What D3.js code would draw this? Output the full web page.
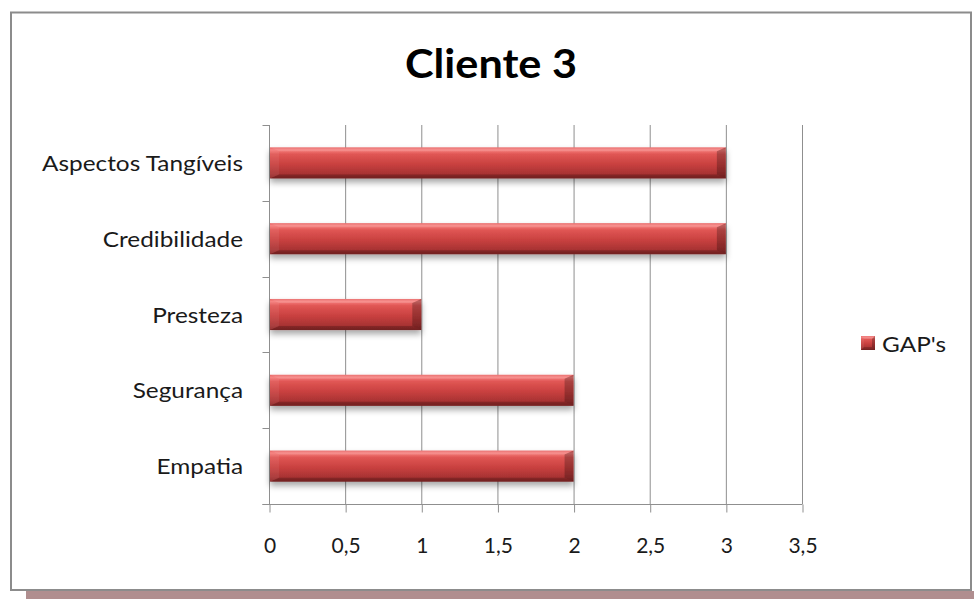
<!DOCTYPE html>
<html>
<head>
<meta charset="utf-8">
<script src="https://cdn.jsdelivr.net/npm/d3@7"></script>
<style>
  html, body { margin: 0; padding: 0; background: #ffffff; }
  svg { display: block; }
  text { font-family: Lato, "Open Sans", sans-serif; fill: #1a1a1a; }
</style>
</head>
<body>
<svg id="chart" width="974" height="599"></svg>
<script>
// Chart data
const title = "Cliente 3";
const seriesName = "GAP's";
const categories = ["Aspectos Tangíveis", "Credibilidade", "Presteza", "Segurança", "Empatia"];
const gapValues = [3, 3, 1, 2, 2];
const xTicks = [0, 0.5, 1, 1.5, 2, 2.5, 3, 3.5];

const svg = d3.select("#chart");
const W = 974, H = 599;
const textStretch = 1.16; // wide, slightly stretched label glyphs

// Plot area
const plot = { left: 269, right: 802, top: 125, bottom: 504 };

const x = d3.scaleLinear().domain([0, 3.5]).range([plot.left, plot.right]);
const y = d3.scaleBand()
  .domain(categories)
  .range([plot.top, plot.bottom])
  .paddingInner(0.59)
  .paddingOuter(0.295);
const step = y.step();

const defs = svg.append("defs");

// Bar body gradient (glossy red)
const grad = defs.append("linearGradient")
  .attr("id", "barGrad").attr("x1", 0).attr("y1", 0).attr("x2", 0).attr("y2", 1);
[
  [0, "#e65a5a"], [0.08, "#f67e7c"], [0.22, "#e05654"],
  [0.55, "#c8403f"], [0.85, "#a83333"], [1, "#8a2727"]
].forEach(([o, c]) => grad.append("stop").attr("offset", o).attr("stop-color", c));

// Soft shadow under the bars
const shadow = defs.append("filter").attr("id", "barShadow")
  .attr("x", "-5%").attr("y", "-30%").attr("width", "110%").attr("height", "180%");
shadow.append("feDropShadow")
  .attr("dx", 0).attr("dy", 4).attr("stdDeviation", 3)
  .attr("flood-color", "#000").attr("flood-opacity", 0.35);

// Outer frame with drop shadow strip
svg.append("rect")
  .attr("x", 26).attr("y", 591).attr("width", W - 26).attr("height", 8)
  .attr("fill", "#b08e8f");
svg.append("rect")
  .attr("x", 11).attr("y", 12.5).attr("width", 960).attr("height", 577.5)
  .attr("fill", "#ffffff").attr("stroke", "#8c8c8c").attr("stroke-width", 2);

// Title
svg.append("text")
  .attr("transform", "translate(491,78) scale(1.08,1)")
  .attr("text-anchor", "middle")
  .style("font-weight", "bold").style("font-size", "40px")
  .style("fill", "#000")
  .text(title);

// Vertical gridlines
svg.append("g").selectAll("line")
  .data(xTicks.filter(t => t > 0))
  .join("line")
  .attr("x1", d => x(d) + 0.5).attr("x2", d => x(d) + 0.5)
  .attr("y1", plot.top).attr("y2", plot.bottom)
  .attr("stroke", "#8f8f8f").attr("stroke-width", 1);

// Bottom value axis
const xAxis = d3.axisBottom(x)
  .tickValues(xTicks)
  .tickSize(8)
  .tickPadding(26)
  .tickFormat(d => String(d).replace(".", ","));
const gx = svg.append("g")
  .attr("transform", `translate(0.5,${plot.bottom + 0.5})`)
  .call(xAxis);
gx.select(".domain").remove();
gx.selectAll(".tick line").attr("stroke", "#8f8f8f");
gx.selectAll(".tick text")
  .style("font-size", "21px").style("font-family", "Lato, 'Open Sans', sans-serif")
  .attr("fill", "#1a1a1a");
gx.append("line")
  .attr("x1", plot.left - 7).attr("x2", plot.right)
  .attr("y1", 0).attr("y2", 0)
  .attr("stroke", "#8f8f8f");

// Left category axis: line plus tick marks at band boundaries
const gy = svg.append("g").attr("transform", "translate(0.5,0)");
gy.append("line")
  .attr("x1", plot.left).attr("x2", plot.left)
  .attr("y1", plot.top).attr("y2", plot.bottom)
  .attr("stroke", "#8f8f8f");
gy.selectAll("line.tick")
  .data(d3.range(categories.length + 1))
  .join("line").attr("class", "tick")
  .attr("x1", plot.left - 7).attr("x2", plot.left)
  .attr("y1", i => Math.round(plot.top + i * step) + 0.5)
  .attr("y2", i => Math.round(plot.top + i * step) + 0.5)
  .attr("stroke", "#8f8f8f");

// Category labels
svg.append("g").selectAll("text")
  .data(categories)
  .join("text")
  .attr("transform", d => `translate(243,${y(d) + y.bandwidth() / 2 + 8}) scale(${textStretch},1)`)
  .attr("text-anchor", "end")
  .style("font-size", "21px")
  .text(d => d);

// Beveled glossy bar shape
function drawBevelBar(g, x0, y0, x1, y1, bx, by) {
  g.append("rect")
    .attr("x", x0).attr("y", y0).attr("width", x1 - x0).attr("height", y1 - y0)
    .attr("fill", "url(#barGrad)");
  const poly = (pts, fill, op) => g.append("polygon")
    .attr("points", pts.map(p => p.join(",")).join(" "))
    .attr("fill", fill).attr("fill-opacity", op);
  poly([[x0, y0], [x1, y0], [x1 - bx, y0 + by], [x0 + bx, y0 + by]], "#ffffff", 0.14);
  poly([[x0, y1], [x1, y1], [x1 - bx, y1 - by], [x0 + bx, y1 - by]], "#000000", 0.18);
  poly([[x0, y0], [x0 + bx, y0 + by], [x0 + bx, y1 - by], [x0, y1]], "#ffffff", 0.06);
  poly([[x1, y0], [x1 - bx, y0 + by], [x1 - bx, y1 - by], [x1, y1]], "#000000", 0.24);
}

// Bars
const bars = svg.append("g");
categories.forEach((c, i) => {
  const g = bars.append("g").attr("filter", "url(#barShadow)");
  drawBevelBar(g, x(0) + 1, y(c), x(gapValues[i]), y(c) + y.bandwidth(), 9, 4);
});

// Legend
const lg = svg.append("g");
drawBevelBar(lg, 861, 336, 875, 350, 3, 3);
lg.append("text")
  .attr("transform", `translate(882,352) scale(${textStretch},1)`)
  .style("font-size", "21px")
  .text(seriesName);
</script>
</body>
</html>
